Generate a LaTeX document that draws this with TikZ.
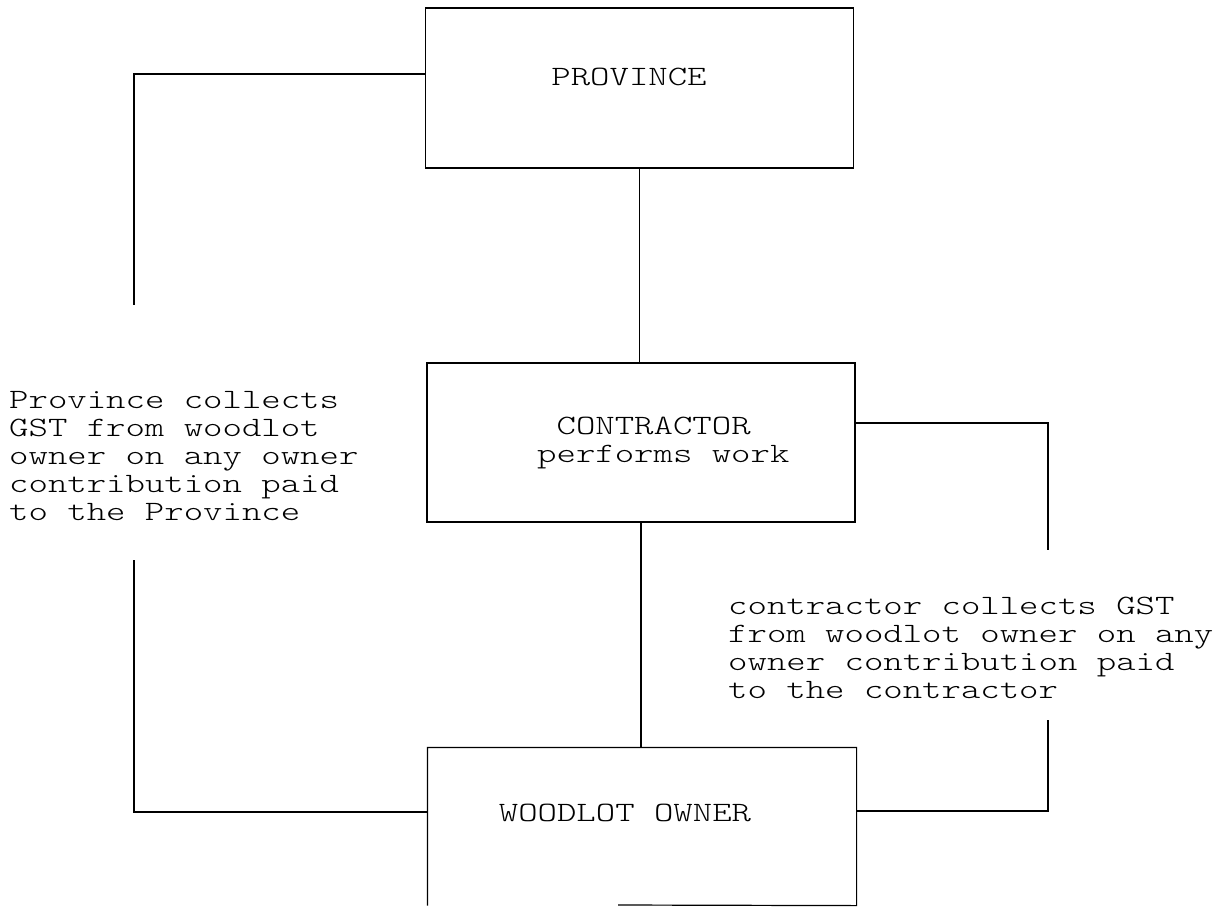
\documentclass[tikz,border=0pt]{standalone}
\usepackage{fontspec}
\newfontfamily\typefont[FakeStretch=1.32]{lmmonolt10-regular.otf}
\usetikzlibrary{calc}
\tikzset{
  box/.style={draw, line width=1.2pt, minimum width=428pt, inner sep=0pt},
  wire/.style={line width=1.1pt},
  lbl/.style={font=\typefont\fontsize{28}{28}\selectfont, align=left, inner sep=0pt}
}
\begin{document}
\begin{tikzpicture}[x=1pt, y=-1pt]
  \useasboundingbox (0,0) rectangle (1230,907);

  % the three parties
  \node[box, minimum height=160pt] (prov) at (639.5,88) {};
  \node[box, minimum height=159pt] (contr) at (641,442.5) {};
  \node[box, draw=none, minimum height=157pt] (wood) at (642,826.5) {};
  \coordinate (woodgap) at (618,905);
  \draw[line width=1.2pt] (wood.south west) -- (wood.north west) -- (wood.north east)
        -- (wood.south east) -- (woodgap);

  \node[lbl] (provtxt) at (629,77) {PROVINCE};
  \node[lbl, anchor=west] (contrtxt) at (537,442.5) {\hphantom{C}CONTRACTOR\\performs work};
  \node[lbl] (woodtxt) at (625,813) {WOODLOT OWNER};

  % central chain
  \draw[wire] (prov.south) -- (prov.south |- contr.north);
  \draw[wire] (contr.south) -- (contr.south |- wood.north);

  % province side loop
  \coordinate (L0) at (134,74);
  \coordinate (L1) at (134,305);
  \coordinate (L2) at (134,560);
  \coordinate (L3) at (134,812);
  \draw[wire] (prov.west |- L0) -- (L0) -- (L1);
  \draw[wire] (L2) -- (L3) -- (wood.west |- L3);
  \node[lbl, anchor=west] (provnote) at (9,456)
    {Province collects\\GST from woodlot\\owner on any owner\\contribution paid\\to the Province};

  % contractor side loop
  \coordinate (R0) at (1048,423);
  \coordinate (R1) at (1048,550);
  \coordinate (R2) at (1048,720);
  \coordinate (R3) at (1048,811);
  \draw[wire] (contr.east |- R0) -- (R0) -- (R1);
  \draw[wire] (R2) -- (R3) -- (wood.east |- R3);
  \node[lbl, anchor=west] (contrnote) at (728,648)
    {contractor collects GST\\from woodlot owner on any\\owner contribution paid\\to the contractor};
\end{tikzpicture}
\end{document}
